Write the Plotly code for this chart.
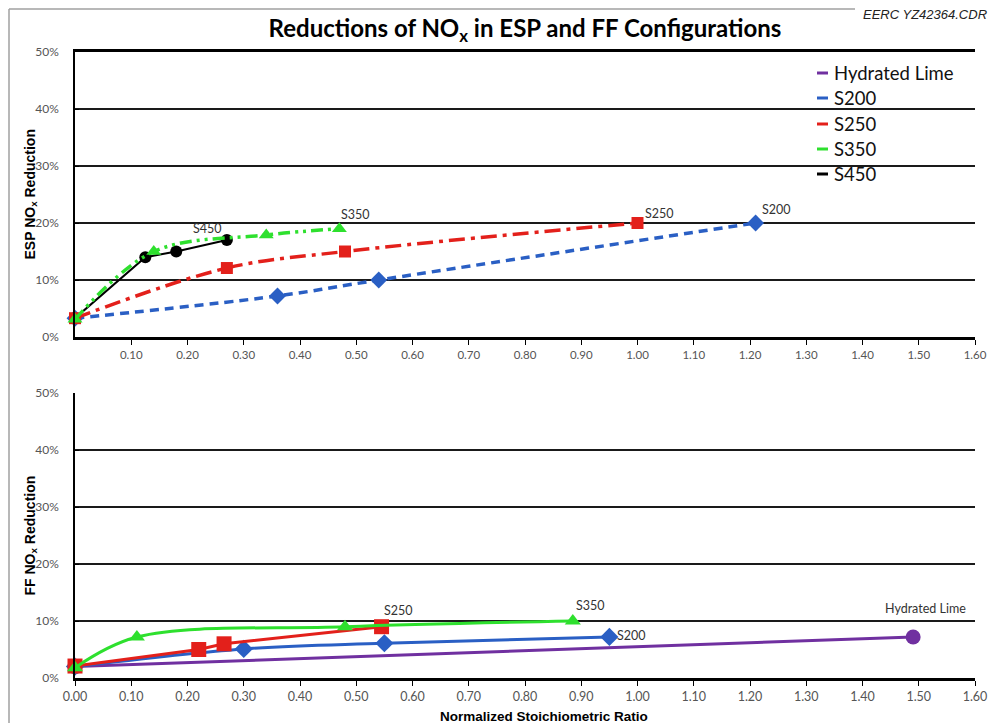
import plotly.graph_objects as go

# ---------------- data ----------------
series_names = ["Hydrated Lime", "S200", "S250", "S350", "S450"]

# ESP (top panel)
esp_s200_x = [0.0, 0.36, 0.54, 1.21]
esp_s200_y = [0.033, 0.072, 0.10, 0.20]
esp_s250_x = [0.0, 0.27, 0.48, 1.00]
esp_s250_y = [0.033, 0.121, 0.15, 0.20]
esp_s350_x = [0.0, 0.14, 0.34, 0.47]
esp_s350_y = [0.031, 0.15, 0.179, 0.19]
esp_s450_x = [0.0, 0.125, 0.18, 0.27]
esp_s450_y = [0.033, 0.14, 0.15, 0.17]

# FF (bottom panel)
ff_lime_x = [0.0, 1.49]
ff_lime_y = [0.02, 0.072]
ff_s200_x = [0.0, 0.30, 0.55, 0.95]
ff_s200_y = [0.02, 0.051, 0.061, 0.072]
ff_s250_x = [0.0, 0.22, 0.265, 0.545]
ff_s250_y = [0.021, 0.05, 0.06, 0.09]
ff_s350_x = [0.0, 0.11, 0.48, 0.885]
ff_s350_y = [0.018, 0.072, 0.09, 0.10]

x_ticks_top = [0.10, 0.20, 0.30, 0.40, 0.50, 0.60, 0.70, 0.80, 0.90, 1.00,
               1.10, 1.20, 1.30, 1.40, 1.50, 1.60]
x_ticks_bottom = [0.00] + x_ticks_top
y_ticks = [0.0, 0.1, 0.2, 0.3, 0.4, 0.5]

# ---------------- style ----------------
colors = {"Hydrated Lime": "#7030A0", "S200": "#2A5FC4", "S250": "#E3201B",
          "S350": "#2EE02E", "S450": "#000000"}
LABEL_FONT = dict(family="Lato", size=12.5, color="#333333")

fig = go.Figure()

TOP = dict(xaxis="x", yaxis="y")
BOT = dict(xaxis="x2", yaxis="y2")

def add(x, y, name, axes, dash, width, symbol, msize, shape="spline"):
    fig.add_trace(go.Scatter(
        x=x, y=y, name=name, mode="lines+markers", showlegend=False,
        line=dict(color=colors[name], width=width, dash=dash, shape=shape, smoothing=1),
        marker=dict(color=colors[name], symbol=symbol, size=msize),
        cliponaxis=False, **axes))

# top panel (S450 drawn first so the others sit on top at the origin)
add(esp_s450_x, esp_s450_y, "S450", TOP, "solid", 2, "circle", 12, shape="linear")
add(esp_s200_x, esp_s200_y, "S200", TOP, "9px,6px", 3.5, "diamond", 13)
add(esp_s250_x, esp_s250_y, "S250", TOP, "16px,6px,4px,6px", 3.5, "square", 12)
add(esp_s350_x, esp_s350_y, "S350", TOP, "12px,5px,3px,5px,3px,5px", 3.5, "triangle-up", 13)

# bottom panel
add(ff_lime_x, ff_lime_y, "Hydrated Lime", BOT, "solid", 3, "circle", 15, shape="linear")
add(ff_s200_x, ff_s200_y, "S200", BOT, "solid", 3, "diamond", 14)
add(ff_s250_x, ff_s250_y, "S250", BOT, "solid", 3, "square", 15, shape="linear")
add(ff_s350_x, ff_s350_y, "S350", BOT, "solid", 3, "triangle-up", 14)

annotations = []

def end_label(x, y, text, xref, yref, xanchor, yanchor, xshift, yshift):
    annotations.append(dict(x=x[-1], y=y[-1], xref=xref, yref=yref, text=text,
                            showarrow=False, xanchor=xanchor, yanchor=yanchor,
                            xshift=xshift, yshift=yshift, font=LABEL_FONT))

end_label(esp_s450_x, esp_s450_y, "S450", "x", "y", "right", "bottom", -3, 2)
end_label(esp_s350_x, esp_s350_y, "S350", "x", "y", "left", "bottom", 0, 5)
end_label(esp_s250_x, esp_s250_y, "S250", "x", "y", "left", "bottom", 5, 0)
end_label(esp_s200_x, esp_s200_y, "S200", "x", "y", "left", "bottom", 4, 4)
end_label(ff_s250_x, ff_s250_y, "S250", "x2", "y2", "left", "bottom", 0, 7)
end_label(ff_s350_x, ff_s350_y, "S350", "x2", "y2", "left", "bottom", 1, 6)
end_label(ff_s200_x, ff_s200_y, "S200", "x2", "y2", "left", "middle", 6, 1)
end_label(ff_lime_x, ff_lime_y, "Hydrated Lime", "x2", "y2", "center", "bottom", 12, 19)

# custom legend (short coloured dash + name) inside top panel
shapes = []
legend_y_px = [73, 98, 124, 149, 174]
for name, py in zip(series_names, legend_y_px):
    yy = 1 - (py - 52) / 285.0
    shapes.append(dict(type="line", xref="x domain", yref="y domain",
                       x0=(817 - 75) / 900.0, x1=(828 - 75) / 900.0, y0=yy, y1=yy,
                       line=dict(color=colors[name], width=3)))
    annotations.append(dict(x=(832 - 75) / 900.0, y=yy, xref="x domain", yref="y domain",
                            text=name, showarrow=False, xanchor="left", yanchor="middle",
                            font=dict(family="Lato", size=18.5, color="#111111")))

# bottom panel gridlines (no line at 50%)
for gv in [0.1, 0.2, 0.3, 0.4]:
    shapes.append(dict(type="line", xref="x2 domain", yref="y2", x0=0, x1=1, y0=gv, y1=gv,
                       line=dict(color="#1a1a1a", width=2), layer="below"))

# outer frame (grey)
FX = (9 - 75) / 900.0
FY = (678 - 9) / 626.0
shapes.append(dict(type="line", xref="paper", yref="paper",
                   x0=FX, x1=FX, y0=FY, y1=(678 - 740) / 626.0,
                   line=dict(color="#A0A0A0", width=1.5)))
shapes.append(dict(type="line", xref="paper", yref="paper",
                   x0=FX, x1=(855 - 75) / 900.0, y0=FY, y1=FY,
                   line=dict(color="#A0A0A0", width=1.5)))

# axis titles and header text
annotations.append(dict(x=(30 - 75) / 900.0, y=0.5, xref="paper", yref="y domain",
                        text="<b>ESP NO<sub>x</sub> Reduction</b>", textangle=-90,
                        showarrow=False, xanchor="center", yanchor="middle",
                        font=dict(family="Liberation Sans", size=14, color="#000")))
annotations.append(dict(x=(30 - 75) / 900.0, y=0.5, xref="paper", yref="y2 domain",
                        text="<b>FF NO<sub>x</sub> Reduction</b>", textangle=-90,
                        showarrow=False, xanchor="center", yanchor="middle",
                        font=dict(family="Liberation Sans", size=14, color="#000")))
annotations.append(dict(x=(544 - 75) / 900.0, y=(678 - 716) / 626.0, xref="paper", yref="paper",
                        text="<b>Normalized Stoichiometric Ratio</b>",
                        showarrow=False, xanchor="center", yanchor="middle",
                        font=dict(family="Liberation Sans", size=13.5, color="#000")))
annotations.append(dict(x=(861 - 75) / 900.0, y=(678 - 15) / 626.0, xref="paper", yref="paper",
                        text="<i>EERC YZ42364.CDR</i>",
                        showarrow=False, xanchor="left", yanchor="middle",
                        font=dict(family="Liberation Sans", size=13, color="#222")))

tickfont_x = dict(family="Lato", size=11.5, color="#555555")
tickfont_y = dict(family="Lato", size=12, color="#555555")

fig.update_layout(
    width=993, height=723,
    margin=dict(l=75, r=18, t=52, b=45, autoexpand=False),
    paper_bgcolor="white", plot_bgcolor="white",
    showlegend=False,
    title=dict(text="<b>Reductions of NO<sub>x</sub> in ESP and FF Configurations</b>",
               x=0.5, xref="paper", xanchor="center",
               y=1 - 29 / 723.0, yref="container", yanchor="middle",
               font=dict(family="Lato", size=24, color="#000")),
    xaxis=dict(domain=[0, 1], range=[0, 1.6], tickvals=x_ticks_top, tickformat=".2f",
               showgrid=False, zeroline=False, showline=True, linecolor="#000",
               linewidth=3, mirror=True, ticks="outside", ticklen=5, tickwidth=1,
               tickcolor="#000", tickfont=tickfont_x, anchor="y",
               automargin=False, ticklabeloverflow="allow"),
    yaxis=dict(domain=[(678 - 337) / 626.0, 1], range=[0, 0.5], tickvals=y_ticks,
               tickformat=".0%", showgrid=True, gridcolor="#1a1a1a", gridwidth=2,
               zeroline=False, showline=True, linecolor="#000", linewidth=1.5,
               ticks="inside", ticklen=4, tickcolor="#000", automargin=False,
               tickfont=tickfont_y, ticklabelstandoff=12, anchor="x"),
    xaxis2=dict(domain=[0, 1], range=[0, 1.6], tickvals=x_ticks_bottom, tickformat=".2f",
                showgrid=False, zeroline=False, showline=True, linecolor="#000",
                linewidth=3, ticks="outside", ticklen=5, tickwidth=1, tickcolor="#000",
                tickfont=dict(family="Lato", size=12.5, color="#555555"), anchor="y2",
                automargin=False, ticklabeloverflow="allow"),
    yaxis2=dict(domain=[0, (678 - 393) / 626.0], range=[0, 0.5], tickvals=y_ticks,
                tickformat=".0%", showgrid=False, zeroline=False, showline=True,
                linecolor="#000", linewidth=1.5, ticks="inside", ticklen=4, automargin=False,
                tickcolor="#000", tickfont=tickfont_y, ticklabelstandoff=12, anchor="x2"),
    shapes=shapes,
    annotations=annotations,
)

# remove the default 8px page margin so the 993x723 figure fills the window exactly
fig.write_html("out.html", config={"displayModeBar": False},
               post_script="document.body.style.margin='0px';")
